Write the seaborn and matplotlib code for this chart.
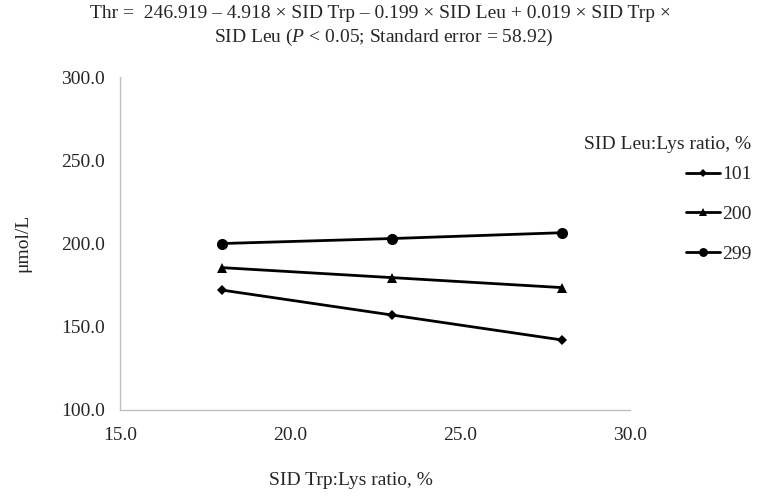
import pandas as pd
import matplotlib.pyplot as plt
import seaborn as sns

# values
trp_ratio = [18, 23, 28]
leu_levels = ["101", "200", "299"]
thr_101 = [172.0, 157.0, 142.0]
thr_200 = [185.5, 179.5, 173.5]
thr_299 = [200.0, 203.0, 206.5]

df = pd.DataFrame({
    "trp": trp_ratio * 3,
    "leu": [leu_levels[0]] * 3 + [leu_levels[1]] * 3 + [leu_levels[2]] * 3,
    "thr": thr_101 + thr_200 + thr_299,
})

sns.set_style("white")
plt.rcParams["font.family"] = ["Liberation Serif", "DejaVu Serif"]
plt.rcParams["mathtext.fontset"] = "custom"
plt.rcParams["mathtext.rm"] = "Liberation Serif"
plt.rcParams["mathtext.it"] = "Liberation Serif:italic"

FS = 14

fig = plt.figure(figsize=(7.6, 4.98), dpi=100)
ax = fig.add_axes([0.158, 0.177, 0.671, 0.668])

sns.lineplot(data=df, x="trp", y="thr", hue="leu", style="leu",
             palette=["black"] * 3, markers={"101": "D", "200": "^", "299": "o"},
             dashes=False, linewidth=2.0, markersize=7, markeredgewidth=0,
             ax=ax, legend=True)
# tweak marker sizes per series
sizes = {"101": 5.5, "200": 7.5, "299": 8}
for line, lev in zip(ax.lines, leu_levels):
    line.set_markersize(sizes[lev])

handles, labels = ax.get_legend_handles_labels()
ax.get_legend().remove()
for h, lev in zip(handles, labels):
    h.set_markersize(sizes.get(lev, 6) * 0.8)
    h.set_linewidth(2.0)
fig.legend(handles, labels, loc="upper left", bbox_to_anchor=(0.903, 0.667),
           frameon=False, fontsize=FS, handlelength=1.75, handletextpad=0.1,
           labelspacing=1.13, borderaxespad=0, borderpad=0)
fig.text(0.768, 0.71, "SID Leu:Lys ratio, %", fontsize=FS, va="center", ha="left")

ax.set_xlim(15, 30)
ax.set_ylim(100, 300)
ax.set_xticks([15, 20, 25, 30])
ax.set_yticks([100, 150, 200, 250, 300])
ax.set_xticklabels([f"{v:.1f}" for v in [15, 20, 25, 30]])
ax.set_yticklabels([f"{v:.1f}" for v in [100, 150, 200, 250, 300]])
ax.tick_params(labelsize=FS, length=0, pad=11)
ax.tick_params(axis="x", pad=12)
ax.set_xlabel("")
ax.set_ylabel("")
sns.despine(ax=ax)
for s in ["left", "bottom"]:
    ax.spines[s].set_color("#bfbfbf")
    ax.spines[s].set_linewidth(1.0)

fig.text(0.03, 0.512, "μmol/L", rotation=90, fontsize=FS, va="center", ha="center")
fig.text(0.462, 0.036, "SID Trp:Lys ratio, %", fontsize=FS, va="center", ha="center")

fig.text(0.5, 0.972, "Thr =  246.919 – 4.918 × SID Trp – 0.199 × SID Leu + 0.019 × SID Trp ×",
         fontsize=FS, ha="center", va="center")
fig.text(0.505, 0.924, "SID Leu ($P$ < 0.05; Standard error = 58.92)",
         fontsize=FS, ha="center", va="center")

fig.savefig("out.png", dpi=100)
